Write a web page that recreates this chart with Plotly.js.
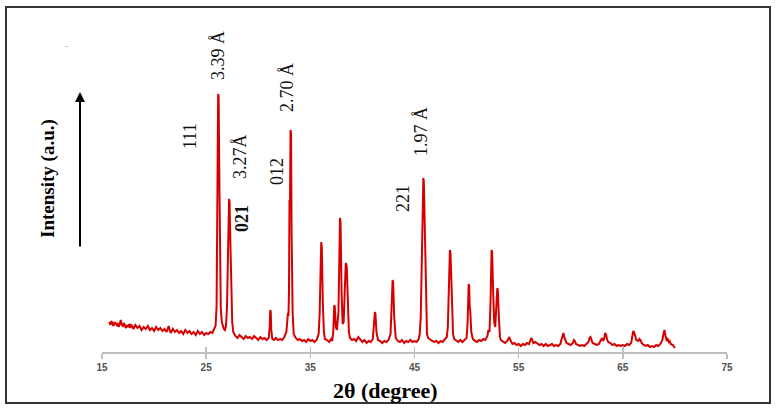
<!DOCTYPE html>
<html>
<head>
<meta charset="utf-8">
<script src="https://cdn.plot.ly/plotly-3.0.1.min.js"></script>
<style>html,body{margin:0;padding:0;background:#fff;}#chart{width:778px;height:411px;}</style>
</head>
<body>
<div id="chart"></div>
<script>
const tth = [
15.7,15.8,15.9,16.0,16.1,16.2,16.3,16.4,16.5,16.6,16.7,16.8,16.9,17.0,17.1,17.2,17.3,17.4,17.5,17.6,17.7,17.8,17.9,18.0,18.2,18.4,18.6,18.8,19.0,19.2,19.4,19.6,19.8,20.0,20.2,20.4,20.6,20.8,21.0,21.2,21.4,21.5,21.6,21.8,22.0,22.2,22.4,22.6,22.8,23.0,23.2,23.4,23.6,23.8,24.0,24.2,24.4,24.6,24.8,25.0,25.2,25.4,25.6,25.8,
25.9,26.0,26.05,26.1,26.15,26.2,26.25,26.3,26.4,26.5,26.6,26.7,26.8,26.9,27.0,27.1,27.2,27.25,27.3,27.4,27.5,27.6,27.7,
27.8,28.0,28.2,28.4,28.6,28.8,29.0,29.2,29.4,29.6,29.8,30.0,30.2,30.4,30.6,30.8,31.0,31.1,31.15,31.2,31.25,31.35,31.5,31.7,31.9,32.1,32.3,32.5,32.7,32.8,32.85,32.9,32.95,33.0,33.05,33.1,33.15,33.2,33.3,33.4,33.6,33.8,
34.0,34.2,34.4,34.6,34.8,35.0,35.2,35.4,35.6,35.8,35.9,36.0,36.05,36.1,36.2,36.3,36.4,36.6,36.8,37.0,37.1,37.2,37.3,37.35,37.45,37.55,37.7,37.8,37.85,37.9,38.0,38.1,38.2,38.3,38.4,38.45,38.5,38.6,38.7,38.8,
39.0,39.2,39.4,39.6,39.8,40.0,40.2,40.4,40.6,40.8,41.0,41.1,41.2,41.25,41.35,41.5,41.7,41.9,42.1,42.3,42.5,42.7,42.8,42.9,42.95,43.05,43.2,43.4,43.6,43.8,
44.0,44.2,44.4,44.6,44.8,45.0,45.2,45.4,45.5,45.6,45.7,45.8,45.85,45.9,46.0,46.1,46.2,46.3,46.5,46.7,46.9,47.1,47.3,47.5,47.7,47.9,48.1,48.2,48.3,48.4,48.45,48.5,48.6,48.7,48.8,
49.0,49.2,49.4,49.6,49.8,50.0,50.1,50.2,50.25,50.3,50.35,50.45,50.6,50.8,51.0,51.2,51.4,51.6,51.8,52.0,52.1,52.2,52.3,52.4,52.45,52.55,52.65,52.75,52.85,52.95,53.0,53.1,53.2,53.3,53.5,53.7,53.9,
54.0,54.1,54.2,54.4,54.6,54.8,55.0,55.2,55.4,55.6,55.8,56.0,56.1,56.2,56.3,56.4,56.6,56.8,57.0,57.2,57.4,57.6,57.8,58.0,58.2,58.4,58.6,58.8,59.0,59.1,59.2,59.3,59.4,59.5,59.6,59.8,
60.0,60.2,60.3,60.4,60.5,60.7,60.9,61.1,61.3,61.5,61.7,61.8,61.9,62.0,62.1,62.3,62.5,62.7,62.9,63.0,63.1,63.2,63.3,63.4,63.5,63.6,63.8,
64.0,64.2,64.4,64.6,64.8,65.0,65.2,65.4,65.6,65.8,65.9,66.0,66.1,66.2,66.3,66.5,66.6,66.7,66.8,67.0,67.2,67.4,67.6,67.8,68.0,68.2,68.4,68.6,68.8,68.9,69.0,69.1,69.2,69.3,69.4,69.5,69.6,69.8,70.0
];
const intensity = [
30,27,31,29,26,30,28,27,29,25,28,32,27,26,29,26,24,27,25,28,24,27,26,23,27,24,26,22,25,23,26,22,24,21,25,22,24,21,23,20,26,22,19,23,20,22,19,21,18,22,19,21,18,20,17,21,18,20,17,19,18,20,19,24,
26,45,110,200,258,255,190,100,45,30,25,23,22,26,45,100,153,150,120,60,30,20,17,
16,14,17,15,13,16,14,15,13,16,14,12,15,13,14,12,14,25,42,40,22,13,12,14,12,13,12,15,20,32,39,36,60,152,150,222,218,120,40,18,14,12,
13,11,12,10,13,11,12,10,12,18,40,90,110,105,50,20,13,12,10,13,11,20,47,45,25,22,40,110,134,130,60,28,30,60,89,88,85,45,20,14,
12,13,11,15,12,10,12,9,11,10,13,25,40,38,20,12,11,9,11,10,12,18,45,72,70,35,14,11,10,12,
9,11,10,12,10,11,10,13,18,35,90,160,174,170,110,40,18,14,12,11,10,11,9,11,10,12,15,25,60,102,100,85,40,18,13,
11,10,12,10,12,14,30,68,66,45,42,20,13,11,10,12,11,13,12,16,22,20,50,102,100,60,30,25,40,64,62,35,15,12,10,9,11,
13,15,12,8,9,7,8,6,8,7,9,8,11,14,12,9,10,8,7,8,6,8,6,7,8,6,7,6,8,12,17,19,14,11,9,8,
7,9,12,11,8,7,6,7,6,8,10,14,15,12,9,8,7,8,12,14,11,13,19,17,12,10,9,
7,8,6,7,6,7,6,8,7,9,14,21,19,14,12,11,13,12,9,7,6,7,5,6,5,7,6,8,12,18,22,16,12,13,10,11,8,7,4
];
const xTicks = [15,25,35,45,55,65,75];
const peakLabels = ["3.39 Å","111","3.27Å","021","012","2.70 Å","1.97 Å","221"];
const labelX = [26.14,23.45,28.25,28.44,31.8,32.76,45.62,43.9];
const labelY = [296,216,195,133,180,264,221,153];
const labelBold = [false,false,false,true,false,false,false,false];

const serif = "Liberation Serif, Times New Roman, serif";

const traces = [
  {x: tth, y: intensity, type: "scatter", mode: "lines",
   line: {color: "rgb(214,0,0)", width: 2}, hoverinfo: "skip", showlegend: false},
  {x: tth, y: intensity, type: "scatter", mode: "lines", xaxis: "x2",
   line: {color: "rgba(0,0,0,0)", width: 0}, hoverinfo: "skip", showlegend: false}
];

const annotations = peakLabels.map((t, i) => ({
  x: labelX[i], y: labelY[i], xref: "x", yref: "y",
  text: labelBold[i] ? "<b>" + t + "</b>" : t,
  textangle: -90, showarrow: false,
  font: {family: serif, size: 18, color: "#111"},
  xanchor: "center", yanchor: "middle"
}));

annotations.push({
  xref: "paper", yref: "paper", x: -0.0352, y: 0.8667,
  text: "", showarrow: true, ax: 0, ay: 156,
  arrowhead: 2, arrowsize: 1, arrowwidth: 2, arrowcolor: "#000"
});
annotations.push({
  xref: "paper", yref: "paper", x: -0.0864, y: 0.5767,
  xanchor: "center", yanchor: "middle",
  text: "<b>Intensity (a.u.)</b>", textangle: -90, showarrow: false,
  font: {family: serif, size: 19, color: "#000"}
});
annotations.push({
  xref: "paper", yref: "paper", x: 0.4528, y: -0.1267,
  xanchor: "center", yanchor: "middle",
  text: "<b>2θ (degree)</b>", showarrow: false,
  font: {family: serif, size: 22, color: "#000"}
});
annotations.push({
  xref: "paper", yref: "paper", x: -0.0576, y: 1.02,
  xanchor: "center", yanchor: "middle",
  text: "-", showarrow: false,
  font: {family: serif, size: 9, color: "#999"}
});

const layout = {
  width: 778, height: 411,
  margin: {l: 102, r: 51, t: 52, b: 59, pad: 0},
  paper_bgcolor: "#fff", plot_bgcolor: "#fff",
  showlegend: false,
  xaxis: {
    range: [15, 75], tickvals: xTicks, ticktext: xTicks.map(String),
    showgrid: false, zeroline: false,
    showline: true, linecolor: "#bfbfbf", linewidth: 1.5,
    ticks: "outside", ticklen: 5, tickwidth: 1.5, tickcolor: "#bfbfbf",
    tickfont: {family: "Liberation Sans, Arial, sans-serif", size: 10, color: "#505050", weight: 600},
    fixedrange: true
  },
  xaxis2: {
    range: [15, 75], tickvals: xTicks, overlaying: "x", anchor: "y", side: "bottom",
    showgrid: false, zeroline: false, showline: false, showticklabels: false,
    ticks: "inside", ticklen: 5, tickwidth: 1.5, tickcolor: "#bfbfbf", fixedrange: true
  },
  yaxis: {range: [0, 300], visible: false, fixedrange: true},
  shapes: [{
    type: "rect", xref: "paper", yref: "paper",
    x0: -0.1536, x1: 1.0688, y0: -0.17, y1: 1.15,
    line: {color: "#333", width: 2}, fillcolor: "rgba(0,0,0,0)"
  }],
  annotations: annotations
};

Plotly.newPlot("chart", traces, layout, {displayModeBar: false, staticPlot: true});
</script>
</body>
</html>
